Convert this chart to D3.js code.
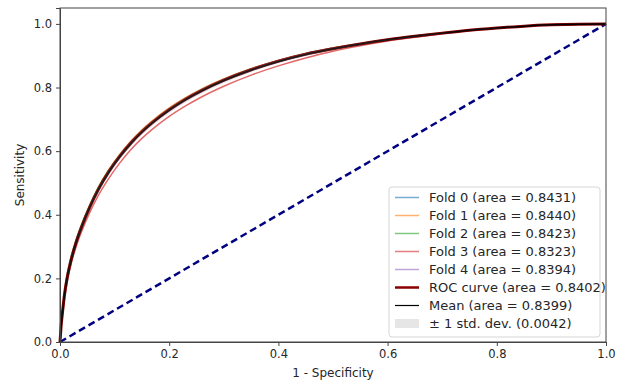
<!DOCTYPE html>
<html>
<head>
<meta charset="utf-8">
<script src="https://cdn.jsdelivr.net/npm/d3@7"></script>
<style>
  body { margin: 0; background: #fff; }
  text { font-family: "DejaVu Sans", sans-serif; fill: #262626; }
</style>
</head>
<body>
<div id="chart"></div>
<script>
// False positive rate grid shared by every curve
const fprGrid = [0, 0.002, 0.005, 0.008, 0.013, 0.02, 0.03, 0.04, 0.055, 0.07, 0.09, 0.11, 0.13, 0.15, 0.17, 0.2, 0.23, 0.26, 0.3, 0.35, 0.4, 0.45, 0.5, 0.55, 0.6, 0.65, 0.7, 0.75, 0.8, 0.85, 0.9, 0.95, 1.0];

// True positive rates
const fold0Tpr = [0, 0.048, 0.099, 0.146, 0.202, 0.257, 0.318, 0.366, 0.428, 0.481, 0.539, 0.587, 0.628, 0.663, 0.693, 0.732, 0.765, 0.793, 0.825, 0.858, 0.885, 0.907, 0.924, 0.938, 0.951, 0.962, 0.971, 0.98, 0.987, 0.993, 0.997, 0.9993, 1];
const fold1Tpr = [0, 0.052, 0.103, 0.148, 0.203, 0.259, 0.32, 0.369, 0.431, 0.485, 0.543, 0.591, 0.632, 0.667, 0.697, 0.736, 0.768, 0.796, 0.827, 0.859, 0.885, 0.906, 0.924, 0.938, 0.951, 0.962, 0.972, 0.98, 0.987, 0.993, 0.997, 0.9993, 1];
const fold2Tpr = [0, 0.056, 0.108, 0.154, 0.21, 0.265, 0.324, 0.372, 0.433, 0.486, 0.542, 0.588, 0.627, 0.661, 0.69, 0.728, 0.761, 0.789, 0.821, 0.854, 0.882, 0.904, 0.922, 0.938, 0.951, 0.962, 0.971, 0.98, 0.987, 0.993, 0.997, 0.9993, 1];
const fold3Tpr = [0, 0.045, 0.09, 0.133, 0.188, 0.243, 0.302, 0.349, 0.409, 0.46, 0.516, 0.564, 0.605, 0.64, 0.67, 0.709, 0.742, 0.771, 0.804, 0.839, 0.868, 0.893, 0.914, 0.931, 0.946, 0.958, 0.969, 0.979, 0.986, 0.993, 0.997, 0.9993, 1];
const fold4Tpr = [0, 0.049, 0.1, 0.144, 0.198, 0.252, 0.312, 0.36, 0.422, 0.475, 0.533, 0.581, 0.622, 0.657, 0.688, 0.727, 0.76, 0.788, 0.82, 0.853, 0.88, 0.902, 0.921, 0.936, 0.949, 0.96, 0.97, 0.98, 0.987, 0.993, 0.997, 0.9993, 1];
const rocTpr = [0, 0.05, 0.1, 0.146, 0.201, 0.256, 0.316, 0.364, 0.426, 0.479, 0.537, 0.585, 0.626, 0.661, 0.691, 0.73, 0.763, 0.791, 0.823, 0.856, 0.883, 0.905, 0.922, 0.937, 0.95, 0.961, 0.971, 0.98, 0.987, 0.993, 0.997, 0.9993, 1];
const meanTpr = [0, 0.05, 0.1, 0.145, 0.2, 0.255, 0.315, 0.363, 0.425, 0.478, 0.536, 0.584, 0.625, 0.66, 0.69, 0.729, 0.762, 0.79, 0.822, 0.855, 0.882, 0.904, 0.922, 0.937, 0.95, 0.961, 0.971, 0.98, 0.987, 0.993, 0.997, 0.9993, 1];
const stdTpr = [0, 0.004, 0.005, 0.006, 0.007, 0.007, 0.007, 0.008, 0.008, 0.009, 0.009, 0.009, 0.009, 0.009, 0.009, 0.009, 0.009, 0.009, 0.008, 0.007, 0.006, 0.005, 0.004, 0.003, 0.002, 0.002, 0.001, 0.001, 0.001, 0, 0, 0, 0];

const foldLabels = ["Fold 0 (area = 0.8431)", "Fold 1 (area = 0.8440)", "Fold 2 (area = 0.8423)", "Fold 3 (area = 0.8323)", "Fold 4 (area = 0.8394)"];
const foldColors = ["#1f77b4", "#ff7f0e", "#2ca02c", "#d62728", "#9467bd"];
const folds = [fold0Tpr, fold1Tpr, fold2Tpr, fold3Tpr, fold4Tpr];
const xTicks = [0, 0.2, 0.4, 0.6, 0.8, 1.0];
const yTicks = [0, 0.2, 0.4, 0.6, 0.8, 1.0];

// Set up the dimensions of the chart
const margin = {top: 8, right: 13, bottom: 39, left: 60};
const width = 619 - margin.left - margin.right;
const height = 381 - margin.top - margin.bottom;

const x = d3.scaleLinear().domain([0, 1]).range([0, width]);
const y = d3.scaleLinear().domain([0, 1.05]).range([height, 0]);

const svg = d3.select("#chart")
    .append("svg")
    .attr("width", 619)
    .attr("height", 381)
    .append("g")
    .attr("transform", `translate(${margin.left}, ${margin.top})`);

const line = d3.line()
    .x((d, i) => x(fprGrid[i]))
    .y(d => y(d))
    .curve(d3.curveMonotoneX);

// Fold curves
folds.forEach((f, k) => {
    svg.append("path")
        .datum(f)
        .attr("fill", "none")
        .attr("stroke", foldColors[k])
        .attr("stroke-opacity", 0.7)
        .attr("stroke-width", 1.5)
        .attr("d", line);
});

// Chance line
svg.append("line")
    .attr("x1", x(0)).attr("y1", y(0))
    .attr("x2", x(1)).attr("y2", y(1))
    .attr("stroke", "#000080")
    .attr("stroke-width", 2.5)
    .attr("stroke-dasharray", "7,4");

// Overall ROC curve
svg.append("path")
    .datum(rocTpr)
    .attr("fill", "none")
    .attr("stroke", "#8b0000")
    .attr("stroke-width", 3)
    .attr("d", line);

// Mean curve
svg.append("path")
    .datum(meanTpr)
    .attr("fill", "none")
    .attr("stroke", "#000")
    .attr("stroke-width", 1.5)
    .attr("d", line);

// Std band
const band = d3.area()
    .x((d, i) => x(fprGrid[i]))
    .y0((d, i) => y(Math.max(d - stdTpr[i], 0)))
    .y1((d, i) => y(Math.min(d + stdTpr[i], 1)))
    .curve(d3.curveMonotoneX);

svg.append("path")
    .datum(meanTpr)
    .attr("fill", "grey")
    .attr("fill-opacity", 0.2)
    .attr("d", band);

// Axes
svg.append("g")
    .attr("transform", `translate(0, ${height})`)
    .call(d3.axisBottom(x).tickValues(xTicks).tickFormat(d3.format(".1f")).tickSizeOuter(0).tickSize(4).tickPadding(4))
    .call(g => g.selectAll(".domain, .tick line").attr("stroke", "#444"))
    .call(g => g.selectAll(".tick text").style("font-size", "11.5px").attr("fill", "#262626"));

svg.append("g")
    .call(d3.axisLeft(y).tickValues(yTicks).tickFormat(d3.format(".1f")).tickSizeOuter(0).tickSize(4).tickPadding(4))
    .call(g => g.selectAll(".domain, .tick line").attr("stroke", "#444"))
    .call(g => g.selectAll(".tick text").style("font-size", "11.5px").attr("fill", "#262626"));

// Frame
svg.append("rect")
    .attr("x", 0).attr("y", 0)
    .attr("width", width).attr("height", height)
    .attr("fill", "none")
    .attr("stroke", "#444")
    .attr("stroke-width", 1);

// Axis labels
svg.append("text")
    .attr("x", width / 2)
    .attr("y", height + 35)
    .attr("text-anchor", "middle")
    .style("font-size", "12px")
    .text("1 - Specificity");

svg.append("text")
    .attr("transform", "rotate(-90)")
    .attr("x", -height / 2)
    .attr("y", -36)
    .attr("text-anchor", "middle")
    .style("font-size", "12px")
    .text("Sensitivity");

// Legend
const legendItems = foldLabels.map((l, k) => ({label: l, color: foldColors[k], type: "fold"}))
    .concat([
        {label: "ROC curve (area = 0.8402)", color: "#8b0000", type: "roc"},
        {label: "Mean (area = 0.8399)", color: "#000", type: "mean"},
        {label: "\u00b1 1 std. dev. (0.0042)", color: "grey", type: "band"}
    ]);

const legend = svg.append("g")
    .attr("transform", `translate(${389 - margin.left}, ${187 - margin.top})`);

legend.append("rect")
    .attr("width", 211)
    .attr("height", 150)
    .attr("rx", 3)
    .attr("fill", "#fff")
    .attr("fill-opacity", 0.8)
    .attr("stroke", "#d6d6d6");

const rows = legend.selectAll(".row")
    .data(legendItems)
    .enter()
    .append("g")
    .attr("class", "row")
    .attr("transform", (d, i) => `translate(0, ${10.5 + i * 18})`);

rows.filter(d => d.type !== "band")
    .append("line")
    .attr("x1", 6).attr("x2", 30)
    .attr("stroke", d => d.color)
    .attr("stroke-opacity", d => d.type === "fold" ? 0.6 : 1)
    .attr("stroke-width", d => d.type === "roc" ? 2.5 : (d.type === "mean" ? 1.2 : 1.5));

rows.filter(d => d.type === "band")
    .append("rect")
    .attr("x", 6).attr("y", -4.5)
    .attr("width", 24).attr("height", 9)
    .attr("fill", "grey")
    .attr("fill-opacity", 0.2);

rows.append("text")
    .attr("x", 40)
    .attr("dy", "0.35em")
    .style("font-size", "13px")
    .text(d => d.label);
</script>
</body>
</html>
